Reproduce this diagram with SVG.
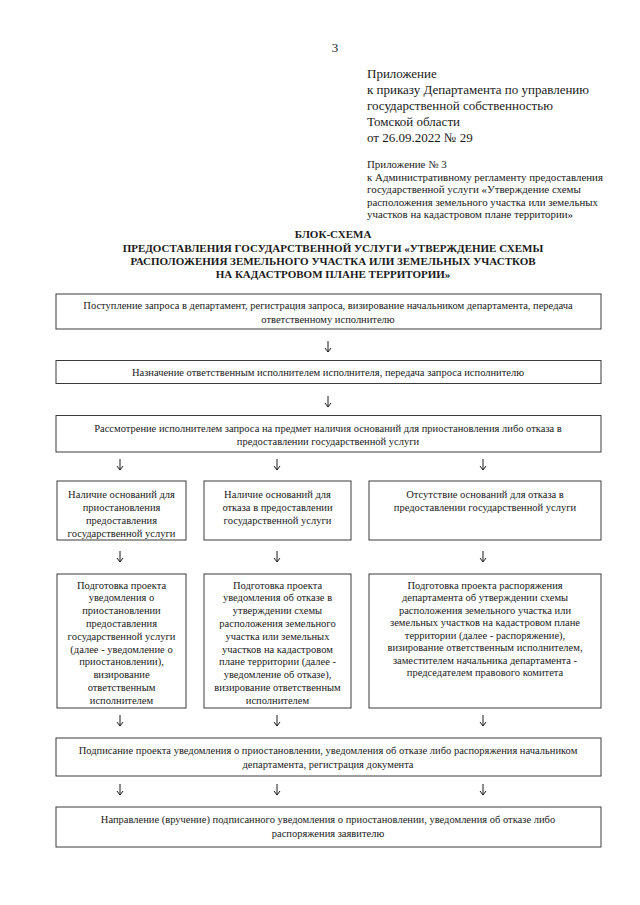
<svg xmlns="http://www.w3.org/2000/svg" width="640" height="905" viewBox="0 0 640 905">
<style>
  text { font-family: "Liberation Serif", "Times New Roman", serif; fill: #1a1a1a; }
  .hdr { font-size: 13px; }
  .app { font-size: 10.9px; }
  .ttl { font-size: 11px; font-weight: bold; text-anchor: middle; }
  .bx { font-size: 10.5px; text-anchor: middle; }
  .box { fill: #ffffff; stroke: #3a3a3a; stroke-width: 1; }
  .arr { fill: none; stroke: #1a1a1a; stroke-width: 1; }
</style>
<rect width="640" height="905" fill="#ffffff"/>

<g id="header">
  <text class="hdr" x="335" y="52" text-anchor="middle">3</text>
  <text class="hdr" x="367" y="78">Приложение</text>
  <text class="hdr" x="367" y="94">к приказу Департамента по управлению</text>
  <text class="hdr" x="367" y="110">государственной собственностью</text>
  <text class="hdr" x="367" y="126">Томской области</text>
  <text class="hdr" x="367" y="142">от 26.09.2022 № 29</text>
  <text class="app" x="367" y="168">Приложение № 3</text>
  <text class="app" x="367" y="181">к Административному регламенту предоставления</text>
  <text class="app" x="367" y="193">государственной услуги «Утверждение схемы</text>
  <text class="app" x="367" y="206">расположения земельного участка или земельных</text>
  <text class="app" x="367" y="218">участков на кадастровом плане территории»</text>
</g>

<g id="title">
  <text class="ttl" x="333" y="238">БЛОК-СХЕМА</text>
  <text class="ttl" x="333" y="252">ПРЕДОСТАВЛЕНИЯ ГОСУДАРСТВЕННОЙ УСЛУГИ «УТВЕРЖДЕНИЕ СХЕМЫ</text>
  <text class="ttl" x="333" y="265">РАСПОЛОЖЕНИЯ ЗЕМЕЛЬНОГО УЧАСТКА ИЛИ ЗЕМЕЛЬНЫХ УЧАСТКОВ</text>
  <text class="ttl" x="333" y="278">НА КАДАСТРОВОМ ПЛАНЕ ТЕРРИТОРИИ»</text>
</g>

<g id="n1">
  <rect class="box" x="56" y="294" width="545" height="35"/>
  <text class="bx" x="328" y="308.5">Поступление запроса в департамент, регистрация запроса, визирование начальником департамента, передача</text>
  <text class="bx" x="328" y="322.5">ответственному исполнителю</text>
</g>

<g id="n2">
  <rect class="box" x="56" y="360.5" width="545" height="23"/>
  <text class="bx" x="328" y="376">Назначение ответственным исполнителем исполнителя, передача запроса исполнителю</text>
</g>

<g id="n3">
  <rect class="box" x="56" y="415.5" width="545" height="36.5"/>
  <text class="bx" x="328" y="431.5">Рассмотрение исполнителем запроса на предмет наличия оснований для приостановления либо отказа в</text>
  <text class="bx" x="328" y="444.5">предоставлении государственной услуги</text>
</g>

<g id="n4a">
  <rect class="box" x="57" y="481" width="129" height="59"/>
  <text class="bx" x="121.5" y="497.5">Наличие оснований для</text>
  <text class="bx" x="121.5" y="510.5">приостановления</text>
  <text class="bx" x="121.5" y="523.5">предоставления</text>
  <text class="bx" x="121.5" y="536.5">государственной услуги</text>
</g>

<g id="n4b">
  <rect class="box" x="204" y="481" width="147" height="59"/>
  <text class="bx" x="277.5" y="497.5">Наличие оснований для</text>
  <text class="bx" x="277.5" y="510.5">отказа в предоставлении</text>
  <text class="bx" x="277.5" y="523.5">государственной услуги</text>
</g>

<g id="n4c">
  <rect class="box" x="369" y="481" width="232" height="59"/>
  <text class="bx" x="485" y="497.5">Отсутствие оснований для отказа в</text>
  <text class="bx" x="485" y="510.5">предоставлении государственной услуги</text>
</g>

<g id="n5a">
  <rect class="box" x="57" y="574" width="129" height="134"/>
  <text class="bx" x="121.5" y="588.5">Подготовка проекта</text>
  <text class="bx" x="121.5" y="601.3">уведомления о</text>
  <text class="bx" x="121.5" y="614.1">приостановлении</text>
  <text class="bx" x="121.5" y="626.9">предоставления</text>
  <text class="bx" x="121.5" y="639.7">государственной услуги</text>
  <text class="bx" x="121.5" y="652.5">(далее - уведомление о</text>
  <text class="bx" x="121.5" y="665.3">приостановлении),</text>
  <text class="bx" x="121.5" y="678.1">визирование</text>
  <text class="bx" x="121.5" y="690.9">ответственным</text>
  <text class="bx" x="121.5" y="703.7">исполнителем</text>
</g>

<g id="n5b">
  <rect class="box" x="204" y="574" width="147" height="134"/>
  <text class="bx" x="277.5" y="588.5">Подготовка проекта</text>
  <text class="bx" x="277.5" y="601.3">уведомления об отказе в</text>
  <text class="bx" x="277.5" y="614.1">утверждении схемы</text>
  <text class="bx" x="277.5" y="626.9">расположения земельного</text>
  <text class="bx" x="277.5" y="639.7">участка или земельных</text>
  <text class="bx" x="277.5" y="652.5">участков на кадастровом</text>
  <text class="bx" x="277.5" y="665.3">плане территории (далее -</text>
  <text class="bx" x="277.5" y="678.1">уведомление об отказе),</text>
  <text class="bx" x="277.5" y="690.9">визирование ответственным</text>
  <text class="bx" x="277.5" y="703.7">исполнителем</text>
</g>

<g id="n5c">
  <rect class="box" x="369" y="574" width="232" height="134"/>
  <text class="bx" x="485" y="588.5">Подготовка проекта распоряжения</text>
  <text class="bx" x="485" y="601">департамента об утверждении схемы</text>
  <text class="bx" x="485" y="613.5">расположения земельного участка или</text>
  <text class="bx" x="485" y="626">земельных участков на кадастровом плане</text>
  <text class="bx" x="485" y="638.5">территории (далее - распоряжение),</text>
  <text class="bx" x="485" y="651">визирование ответственным исполнителем,</text>
  <text class="bx" x="485" y="663.5">заместителем начальника департамента -</text>
  <text class="bx" x="485" y="676">председателем правового комитета</text>
</g>

<g id="n6">
  <rect class="box" x="56" y="738" width="545" height="38"/>
  <text class="bx" x="328" y="753.5">Подписание проекта уведомления о приостановлении, уведомления об отказе либо распоряжения начальником</text>
  <text class="bx" x="328" y="767.5">департамента, регистрация документа</text>
</g>

<g id="n7">
  <rect class="box" x="56" y="807" width="545" height="40"/>
  <text class="bx" x="328" y="822.5">Направление (вручение) подписанного уведомления о приостановлении, уведомления об отказе либо</text>
  <text class="bx" x="328" y="836.5">распоряжения заявителю</text>
</g>

<g id="connectors">
  <path class="arr" d="M328 341 V352 M325 348 L328 352 L331 348"/>
  <path class="arr" d="M328 396 V407 M325 403 L328 407 L331 403"/>

  <path class="arr" d="M120 459 V470 M117 466 L120 470 L123 466"/>
  <path class="arr" d="M277 459 V470 M274 466 L277 470 L280 466"/>
  <path class="arr" d="M483 459 V470 M480 466 L483 470 L486 466"/>

  <path class="arr" d="M120 551 V562 M117 558 L120 562 L123 558"/>
  <path class="arr" d="M277 551 V562 M274 558 L277 562 L280 558"/>
  <path class="arr" d="M483 551 V562 M480 558 L483 562 L486 558"/>

  <path class="arr" d="M120 715 V726 M117 722 L120 726 L123 722"/>
  <path class="arr" d="M277 715 V726 M274 722 L277 726 L280 722"/>
  <path class="arr" d="M483 715 V726 M480 722 L483 726 L486 722"/>

  <path class="arr" d="M120 784 V795 M117 791 L120 795 L123 791"/>
  <path class="arr" d="M277 784 V795 M274 791 L277 795 L280 791"/>
  <path class="arr" d="M483 784 V795 M480 791 L483 795 L486 791"/>
</g>
</svg>
